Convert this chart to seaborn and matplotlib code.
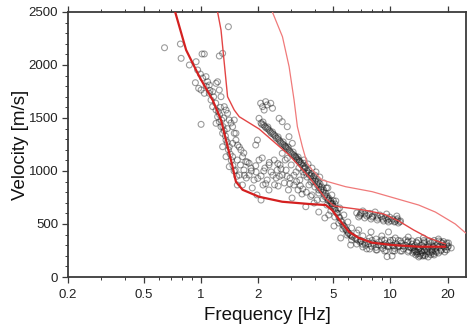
import numpy as np
import pandas as pd
import matplotlib
matplotlib.use("Agg")
import matplotlib.pyplot as plt
import seaborn as sns

# ---- picked dispersion points (frequency [Hz], phase velocity [m/s]) ----
low_branch_f = [0.645, 0.782, 0.789, 0.872, 0.946, 1.017, 1.045, 0.964, 0.996, 1.024,
                1.067, 1.088, 1.11, 0.938, 0.976, 1.005, 1.046, 1.11, 1.156, 1.228,
                1.254, 1.28, 1.254, 1.305, 1.134, 1.156, 1.205, 1.228, 1.254, 1.205,
                1.28, 1.305, 1.36, 1.415, 1.305, 1.473, 1.36, 1.415, 1.005, 1.40,
                1.473, 1.534, 1.503, 1.52, 1.60, 1.56,
                1.205, 1.332, 1.386, 1.415, 1.473, 1.503, 1.534, 1.565, 1.63, 1.662,
                1.73, 1.80, 1.36, 1.445, 1.597, 1.687,
                1.07, 1.12, 1.17, 1.20, 1.24, 1.26, 1.29, 1.31, 1.33, 1.35,
                1.38, 1.40, 1.43, 1.45, 1.48, 1.50, 1.55, 1.27, 1.32, 1.38]
low_branch_v = [2163, 2198, 2063, 2000, 2031, 2104, 2104, 1953, 1915, 1877,
                1890, 1842, 1811, 1833, 1780, 1764, 1733, 1733, 1748, 1842,
                1764, 1701, 2085, 2110, 1670, 1607, 1575, 1512, 1465, 1450,
                1418, 1356, 1292, 1229, 1229, 1135, 1135, 1041, 1440, 2361,
                1261, 1356, 1481, 1009, 962, 868,
                1827, 1607, 1544, 1481, 1418, 1356, 1292, 1245, 1198, 1135,
                1088, 1073, 1575, 1453, 1226, 1170,
                1800, 1760, 1700, 1640, 1560, 1530, 1480, 1420, 1380, 1330,
                1270, 1200, 1160, 1100, 1050, 1000, 950, 1600, 1500, 1400]

cloud_f = [1.56, 1.62, 1.69, 1.76, 1.80, 1.84, 1.91, 1.96, 2.03, 2.08,
           2.13, 2.18, 2.24, 2.29, 2.35, 2.44, 2.50, 2.56, 2.62, 2.69,
           2.76, 2.82, 2.90, 2.96, 3.03, 3.10, 3.18, 3.26, 3.33, 3.42,
           3.58, 1.66, 1.74, 1.87, 1.98, 2.11, 2.29, 2.53, 2.79, 3.00,
           3.22, 3.50, 3.72, 3.86, 4.11, 4.19, 2.08,
           1.70, 1.85, 2.00, 2.15, 2.20, 2.40, 2.45, 2.60, 2.65, 2.85,
           2.95, 3.10, 3.20, 3.35, 3.45, 3.60, 3.80, 2.30, 2.55, 1.95]
cloud_v = [1104, 1057, 1009, 1085, 962, 1028, 915, 991, 1104, 953,
           868, 1028, 915, 821, 991, 1104, 934, 858, 1057, 962,
           887, 1009, 821, 934, 745, 868, 991, 821, 915, 783,
           663, 868, 934, 840, 774, 1123, 1057, 1009, 1104, 1057,
           1104, 962, 868, 774, 726, 821, 726,
           960, 1000, 930, 1000, 880, 960, 870, 950, 1020, 950,
           880, 960, 900, 860, 830, 800, 760, 1080, 1070, 1050]

mode1_pts_f = [2.07, 2.20, 2.34, 2.12, 2.39, 2.16, 2.24, 2.59, 2.69, 2.86,
               2.03, 1.99, 1.95, 2.92, 3.04, 2.81, 3.17, 3.30, 3.50, 2.86,
               2.69,
               2.08, 2.15, 2.21, 2.29, 2.35, 2.44, 2.50, 2.59, 2.65, 2.75,
               2.82, 2.92, 2.99, 3.10, 3.18, 3.29, 3.38,
               2.13, 2.26, 2.39, 2.56, 2.72, 2.89, 3.07, 3.26,
               2.10, 2.18, 2.25, 2.32, 2.40, 2.47, 2.55, 2.62, 2.70, 2.78,
               2.86, 2.95, 3.03, 3.12, 3.22, 3.33]
mode1_pts_v = [1639, 1654, 1639, 1607, 1592, 1575, 1623, 1497, 1465, 1418,
               1497, 1292, 1245, 1324, 1261, 1229, 1135, 1088, 1073, 1120,
               1167,
               1453, 1434, 1406, 1387, 1358, 1340, 1311, 1292, 1264, 1245,
               1217, 1198, 1170, 1151, 1123, 1104, 1075,
               1462, 1415, 1368, 1321, 1274, 1226, 1179, 1132,
               1440, 1420, 1400, 1375, 1350, 1330, 1305, 1280, 1255, 1235,
               1210, 1185, 1160, 1140, 1115, 1090]

main_f = [3.46, 3.55, 3.63, 3.72, 3.81, 3.90, 4.00, 4.10, 4.19, 4.30,
          4.40, 4.51, 4.62, 4.73, 4.85, 4.97, 5.09, 5.22, 5.34, 5.47,
          5.61, 5.75, 5.90, 6.02, 6.24, 6.48, 6.72, 6.97, 7.32, 7.67,
          8.17, 8.65, 9.22, 9.76, 10.35, 11.0, 11.65, 12.4, 13.2, 14.0,
          14.9, 15.8, 16.8, 17.9, 19.0, 20.0,
          3.50, 3.68, 3.86, 4.05, 4.24, 4.46, 4.68, 4.91, 5.15, 5.40,
          5.68, 5.96, 6.24, 6.64, 7.15, 7.76, 8.40, 9.33, 10.3, 11.3,
          12.4, 13.7, 15.1, 16.6, 18.4, 19.8,
          3.29, 3.46, 3.63, 3.81, 4.00, 4.19, 4.40, 4.62, 4.85, 5.09,
          5.34, 5.61, 5.90, 6.24, 6.64, 7.15, 7.76, 8.40, 9.33, 10.3,
          11.3, 12.4, 13.7, 15.1, 16.6, 18.4, 19.8,
          3.40, 3.55, 3.70, 3.85, 3.95, 4.05, 4.15, 4.25, 4.35, 4.45,
          4.55, 4.65, 4.75, 4.85, 4.95, 5.05, 5.15, 5.25, 5.40, 5.55,
          5.70, 5.85, 6.00, 6.15, 3.60, 3.75, 3.90, 4.10, 4.30, 4.50,
          4.70, 4.90, 5.10, 5.30, 3.50, 4.00, 4.60, 5.00]
main_v = [1047, 1028, 1000, 981, 953, 934, 906, 887, 858, 830,
          802, 774, 745, 726, 698, 670, 642, 604, 566, 528,
          491, 462, 434, 415, 387, 368, 349, 340, 321, 311,
          311, 302, 302, 292, 292, 292, 292, 283, 283, 283,
          283, 283, 283, 283, 292, 283,
          1104, 1066, 1028, 991, 943, 887, 840, 774, 717, 651,
          585, 519, 462, 415, 387, 368, 358, 349, 349, 340,
          340, 330, 330, 330, 330, 321,
          1028, 991, 943, 896, 849, 792, 736, 679, 623, 566,
          509, 453, 396, 349, 311, 283, 264, 255, 245, 245,
          245, 236, 236, 245, 245, 245, 255,
          1060, 1040, 1010, 975, 950, 925, 900, 880, 850, 820,
          790, 760, 740, 715, 690, 660, 630, 600, 560, 520,
          480, 445, 410, 395, 980, 960, 905, 870, 820, 760,
          720, 690, 690, 640, 1020, 960, 840, 720]

flat_f = [6.3, 6.6, 6.9, 7.1, 7.4, 7.6, 7.9, 8.1, 8.4, 8.7,
          8.9, 9.1, 9.4, 9.7, 9.9, 10.2, 10.5, 10.8, 11.1, 11.4,
          11.7, 12.0, 12.3, 12.7, 13.0, 13.4, 13.8, 14.2, 14.6, 15.0,
          15.4, 15.9, 16.3, 16.8, 17.2, 17.7, 18.2, 18.7, 19.2, 19.7,
          20.2,
          7.0, 8.0, 9.0, 10.0, 11.0, 12.0, 13.0, 14.0, 15.0, 16.0,
          17.0, 18.0, 19.0,
          7.5, 8.5, 9.5, 10.5, 11.5, 12.5, 13.5, 14.5, 16.5, 18.5,
          19.5]
flat_v = [380, 355, 330, 310, 300, 335, 290, 320, 280, 330,
          300, 270, 315, 285, 325, 300, 270, 310, 285, 320,
          265, 300, 330, 280, 310, 295, 320, 270, 300, 315,
          280, 305, 325, 290, 270, 310, 295, 320, 280, 305,
          290,
          345, 345, 350, 345, 345, 350, 340, 345, 345, 340,
          345, 340, 335,
          265, 255, 250, 245, 245, 250, 250, 245, 255, 255,
          260]

scatter_f = [6.8, 7.9, 9.76, 9.6, 6.17, 5.47, 5.04, 4.51, 4.19, 3.96,
             4.73, 9.0, 10.6, 12.4, 14.9, 17.9, 20.2, 20.9, 19.3, 10.2]
scatter_v = [443, 425, 425, 192, 302, 368, 481, 557, 613, 698,
             585, 387, 368, 377, 368, 358, 321, 274, 236, 198]

upper_f = [6.64, 6.97, 7.32, 7.67, 8.07, 8.52, 8.96, 9.42, 9.76, 10.3,
           10.8, 11.3, 6.8, 7.32, 7.9, 8.52, 9.2, 9.76, 10.5, 11.0,
           7.15, 8.3, 9.54, 10.8,
           6.9, 7.5, 8.0, 8.6, 9.1, 9.6, 10.1, 10.6, 11.2, 7.0,
           7.8, 8.8, 9.9, 10.9]
upper_v = [604, 594, 594, 585, 575, 575, 566, 557, 547, 547,
           538, 528, 566, 557, 547, 538, 528, 519, 519, 509,
           623, 613, 594, 575,
           580, 575, 565, 555, 545, 535, 530, 525, 520, 605,
           600, 585, 565, 550]

slow_f = [12.9, 13.4, 13.9, 14.4, 14.9, 15.5, 16.1, 16.6, 17.3, 13.1,
          13.6, 14.1, 14.8, 15.8, 17.0, 17.9, 15.1,
          13.3, 13.8, 14.3, 14.7, 15.2, 15.7, 16.3, 16.9, 17.5, 14.0,
          15.5]
slow_v = [274, 255, 236, 217, 208, 217, 226, 236, 245, 226,
          208, 189, 198, 189, 208, 226, 255,
          240, 220, 200, 230, 200, 240, 210, 220, 235, 260,
          260]

# ---- theoretical modal curves ----
fund_f = [0.734, 0.838, 0.984, 1.156, 1.280, 1.360, 1.473, 1.534, 1.662, 2.03,
          2.69, 3.72, 4.56, 4.92, 5.55, 6.04, 6.82, 7.98, 10.2, 14.1, 19.45]
fund_v = [2500, 2142, 1890, 1670, 1481, 1292, 1040, 899, 823, 757,
          710, 689, 679, 632, 509, 427, 368, 324, 302, 286, 286]

mode1_f = [1.228, 1.280, 1.332, 1.386, 1.503, 1.597, 2.034, 2.924, 3.724, 4.574,
           5.04, 5.35, 7.24, 9.22, 11.06, 13.26, 15.9, 19.5]
mode1_v = [2500, 2330, 2016, 1701, 1575, 1512, 1396, 1151, 943, 736,
           670, 663, 632, 594, 528, 443, 368, 311]

mode2_f = [2.387, 2.697, 2.924, 3.105, 3.233, 3.434, 3.634, 3.875, 4.357, 5.80,
           8.01, 10.62, 14.08, 17.23, 21.95, 24.9]
mode2_v = [2500, 2267, 1984, 1670, 1418, 1229, 1075, 1009, 915, 852,
           805, 742, 679, 613, 500, 415]

x_ticks = [0.2, 0.5, 1, 2, 5, 10, 20]
x_tick_labels = ["0.2", "0.5", "1", "2", "5", "10", "20"]
x_minor = [0.3, 0.4, 0.6, 0.7, 0.8, 0.9, 3, 4, 6, 7, 8, 9]
y_ticks = [0, 500, 1000, 1500, 2000, 2500]

sns.set_theme(style="ticks")
plt.rcParams["font.family"] = ["Liberation Sans", "DejaVu Sans"]

picks = pd.DataFrame({
    "f": low_branch_f + cloud_f + mode1_pts_f + main_f + flat_f + scatter_f + upper_f + slow_f,
    "v": low_branch_v + cloud_v + mode1_pts_v + main_v + flat_v + scatter_v + upper_v + slow_v,
})

fig = plt.figure(figsize=(4.67, 3.29), dpi=100)
ax = fig.add_axes([68 / 467, 1 - 277 / 329, (466 - 68) / 467, (277 - 12) / 329])

sns.scatterplot(data=picks, x="f", y="v", ax=ax, marker="o", s=18,
                facecolors="none", edgecolor=(0.08, 0.08, 0.08, 0.42),
                linewidth=0.8, zorder=2, legend=False)

curves = [
    (mode2_f, mode2_v, "#f07a7a", 0.9),
    (mode1_f, mode1_v, "#e34545", 1.0),
    (fund_f, fund_v, "#d42020", 1.6),
]
for cf, cv, col, lw in curves:
    sns.lineplot(x=cf, y=cv, ax=ax, sort=False, estimator=None,
                 color=col, linewidth=lw, zorder=3)

ax.set_xscale("log")
ax.set_xlim(0.2, 25)
ax.set_ylim(0, 2500)
ax.set_xticks(x_ticks)
ax.set_xticklabels(x_tick_labels)
ax.set_xticks(x_minor, minor=True)
ax.set_xticklabels([], minor=True)
ax.set_yticks(y_ticks)
ax.set_yticks(np.arange(0, 2501, 100), minor=True)

frame_col = "#3a3a3a"
for side in ["left", "bottom", "top", "right"]:
    ax.spines[side].set_visible(True)
    ax.spines[side].set_linewidth(1.3)
    ax.spines[side].set_color(frame_col)

ax.tick_params(axis="both", which="major", direction="out", length=4,
               width=0.9, color=frame_col, labelsize=9.5, labelcolor="#222222", pad=3)
ax.tick_params(axis="both", which="minor", direction="out", length=2,
               width=0.7, color=frame_col)
ax.tick_params(axis="x", which="both", top=True)
ax.tick_params(axis="x", which="major", pad=5)

ax.set_xlabel("Frequency [Hz]", fontsize=13.5, color="#111111", labelpad=4)
ax.set_ylabel("Velocity [m/s]", fontsize=13.5, color="#111111", labelpad=0)

fig.savefig("out.png", dpi=100)
